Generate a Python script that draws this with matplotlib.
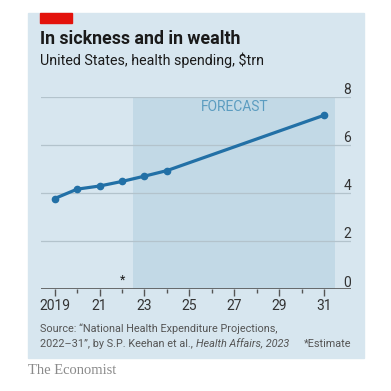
import matplotlib.pyplot as plt
from matplotlib.patches import Rectangle

# health spending, $trn
years = [2019, 2020, 2021, 2022, 2023, 2024, 2031]
spending = [3.76, 4.15, 4.28, 4.47, 4.69, 4.92, 7.22]

forecast_start = 2022.5
forecast_end = 2031.5
y_ticks = [0, 2, 4, 6, 8]
x_major = [2019, 2021, 2023, 2025, 2027, 2029, 2031]
x_major_labels = ["2019", "21", "23", "25", "27", "29", "31"]
x_minor = [2020, 2022, 2024, 2026, 2028, 2030]

PANEL = "#d7e6ef"
SHADE = "#c2d9e6"
LINE = "#2270a6"
GRID = "#b3c3cc"
TEXT = "#1a1a1a"

plt.rcParams['font.family'] = ['Roboto', 'DejaVu Sans']

W = H = 391
fig = plt.figure(figsize=(W / 100, H / 100), dpi=100)
fig.patch.set_facecolor("white")


def fx(px):
    return px / W


def fy(py):
    return 1 - py / H


# background panel and red tag
fig.patches.append(Rectangle((fx(28), fy(358)), fx(336), (358 - 13) / H,
                             transform=fig.transFigure, color=PANEL, zorder=-2))
fig.patches.append(Rectangle((fx(40), fy(23)), fx(32), 10 / H,
                             transform=fig.transFigure, color="#e3120b", zorder=1))

fig.text(fx(40), fy(44), "In sickness and in wealth", fontsize=12.8,
         fontweight="bold", color=TEXT, va="baseline")
fig.text(fx(40), fy(65), "United States, health spending, $trn", fontsize=10.3,
         color=TEXT, va="baseline")

ax = fig.add_axes([fx(41), fy(289), fx(310), (289 - 96.5) / H])
ax.set_facecolor("none")
ax.set_xlim(2018.39, 2032.2)
ax.set_ylim(0, 8)

ax.axvspan(forecast_start, forecast_end, color=SHADE, zorder=0, lw=0)
for v in y_ticks[1:]:
    ax.axhline(v, color=GRID, lw=0.9, zorder=1)
for v in y_ticks:
    ax.text(1.0, v + 0.1, str(v), transform=ax.get_yaxis_transform(),
            ha="right", va="baseline", fontsize=10, color="#333333")
ax.axhline(0, color="#555555", lw=1.2, zorder=3)

ax.plot(years, spending, color=LINE, lw=2.3, marker="o", markersize=4.5,
        zorder=4, solid_capstyle="round")

ax.text((forecast_start + forecast_end) / 2, 7.55, "FORECAST", ha="center",
        va="center", fontsize=10, color="#5b9cc0")
ax.text(2022, 0.1, "*", ha="center", va="bottom", fontsize=9, color=TEXT)

for s in ax.spines.values():
    s.set_visible(False)
ax.set_yticks([])
ax.set_xticks(x_major)
ax.set_xticklabels(x_major_labels)
ax.set_xticks(x_minor, minor=True)
ax.tick_params(axis="x", which="major", length=5, width=1, color="#555555",
               labelsize=10, labelcolor="#333333", pad=2)
ax.tick_params(axis="x", which="minor", length=3, width=1, color="#555555")

fig.text(fx(40), fy(332), "Source: \u201cNational Health Expenditure Projections,",
         fontsize=7.8, color="#555555", va="baseline")
src2 = fig.text(fx(40), fy(347), "2022\u201331\u201d, by S.P. Keehan et al.,",
                fontsize=7.8, color="#555555", va="baseline")
renderer = fig.canvas.get_renderer()
bb = src2.get_window_extent(renderer)
fig.text(bb.x1 / W + fx(3), fy(347), "Health Affairs, 2023", fontsize=7.8,
         style="italic", color="#555555", va="baseline")
fig.text(fx(351), fy(347), "*Estimate", fontsize=7.8, color="#555555",
         ha="right", va="baseline")
fig.text(fx(28), fy(374), "The Economist", fontsize=10.5,
         family="Liberation Serif", color="#8a8a8a", va="baseline")

fig.savefig("out.png", dpi=100)
